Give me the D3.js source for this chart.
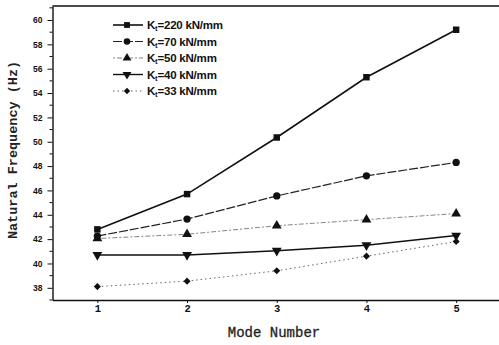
<!DOCTYPE html>
<html>
<head>
<meta charset="utf-8">
<script src="https://cdn.jsdelivr.net/npm/d3@7"></script>
<style>
  body { margin: 0; background: #fff; }
  svg { display: block; }
</style>
</head>
<body>
<div id="chart"></div>
<script>
// canvas size
let width = 499;
let height = 345;

// data
let modes = [1, 2, 3, 4, 5];
let stiffness = ["220", "70", "50", "40", "33"];
let k220 = [42.8, 45.7, 50.35, 55.3, 59.2];
let k70 = [42.25, 43.65, 45.55, 47.2, 48.3];
let k50 = [42.05, 42.4, 43.1, 43.6, 44.1];
let k40 = [40.7, 40.7, 41.05, 41.5, 42.3];
let k33 = [38.1, 38.55, 39.4, 40.6, 41.8];
let yTicks = [38, 40, 42, 44, 46, 48, 50, 52, 54, 56, 58, 60];

let seriesValues = [k220, k70, k50, k40, k33];
let markers = ["square", "circle", "up", "down", "diamond"];
let dashes = [null, "9,2", "2,2,5,2", null, "1.5,3"];
let strokes = [1.6, 1.2, 0.9, 1.4, 0.9];
let lineColors = ["#111", "#222", "#777", "#111", "#555"];

let svg = d3.select("#chart")
    .append("svg")
    .attr("width", width)
    .attr("height", height);

let xScale = d3.scaleLinear().domain([0.5, 5.5]).range([52.5, 501]);
let yScale = d3.scaleLinear().domain([37, 61.15]).range([300, 6]);

// frame
svg.append("line")
    .attr("x1", 52.5).attr("x2", 501)
    .attr("y1", 6).attr("y2", 6)
    .attr("stroke", "#111").attr("stroke-width", 1.4);

// y axis with major and minor ticks
let yAxis = d3.axisLeft(yScale).tickValues(yTicks).tickSize(5).tickPadding(5).tickSizeOuter(0);
let yg = svg.append("g")
    .attr("transform", "translate(52.5,0)")
    .call(yAxis);
yg.select(".domain").attr("stroke", "#111").attr("stroke-width", 1.4);
yg.selectAll("text")
    .attr("font-family", "Liberation Sans, Arial, sans-serif")
    .attr("font-weight", "bold")
    .attr("font-size", 8.5)
    .attr("fill", "#111");
yg.selectAll(".tick line").attr("stroke", "#111");

let minorY = d3.range(37, 62, 2);
svg.append("g").selectAll("line")
    .data(minorY)
    .join("line")
    .attr("x1", 49.5).attr("x2", 52.5)
    .attr("y1", d => yScale(d)).attr("y2", d => yScale(d))
    .attr("stroke", "#111");

// x axis
let xAxis = d3.axisBottom(xScale).tickValues(modes).tickSize(3).tickPadding(2).tickSizeOuter(0)
    .tickFormat(d3.format("d"));
let xg = svg.append("g")
    .attr("transform", "translate(0,300)")
    .call(xAxis);
xg.select(".domain").attr("stroke", "#111").attr("stroke-width", 1.6);
xg.selectAll("text")
    .attr("font-family", "Liberation Mono, Courier New, monospace")
    .attr("font-weight", "bold")
    .attr("font-size", 10.5)
    .attr("fill", "#111");
xg.selectAll(".tick line").attr("stroke", "#111");

// axis titles
svg.append("text")
    .attr("x", 274).attr("y", 337)
    .attr("text-anchor", "middle")
    .attr("font-family", "Liberation Mono, Courier New, monospace")
    .attr("font-size", 14)
    .attr("stroke", "#222")
    .attr("stroke-width", 0.3)
    .attr("fill", "#222")
    .text("Mode Number");

svg.append("text")
    .attr("transform", "translate(17,150) rotate(-90)")
    .attr("text-anchor", "middle")
    .attr("font-family", "Liberation Mono, Courier New, monospace")
    .attr("font-weight", "bold")
    .attr("font-size", 13.5)
    .attr("fill", "#222")
    .text("Natural Frequency (Hz)");

function symbolPath(m, size) {
    if (m === "square") return d3.symbol().type(d3.symbolSquare).size(size)();
    if (m === "circle") return d3.symbol().type(d3.symbolCircle).size(size)();
    if (m === "diamond") return d3.symbol().type(d3.symbolSquare).size(size * 0.6)();
    return d3.symbol().type(d3.symbolTriangle).size(size)();
}
function symbolTurn(m) {
    if (m === "down") return " rotate(180)";
    if (m === "diamond") return " rotate(45)";
    return "";
}

let line = d3.line()
    .x((d, i) => xScale(modes[i]))
    .y(d => yScale(d));

seriesValues.forEach(function(vals, s) {
    svg.append("path")
        .datum(vals)
        .attr("d", line)
        .attr("fill", "none")
        .attr("stroke", lineColors[s])
        .attr("stroke-width", strokes[s])
        .attr("stroke-dasharray", dashes[s]);

    svg.append("g").selectAll("path")
        .data(vals)
        .join("path")
        .attr("d", symbolPath(markers[s], 42))
        .attr("transform", (d, i) => "translate(" + xScale(modes[i]) + "," + yScale(d) + ")" + symbolTurn(markers[s]))
        .attr("fill", "#111");
});

// legend
let legend = svg.append("g").attr("transform", "translate(113,25)");
stiffness.forEach(function(k, s) {
    let row = legend.append("g").attr("transform", "translate(0," + (s * 16.5) + ")");
    row.append("line")
        .attr("x1", 0).attr("x2", 30)
        .attr("stroke", lineColors[s])
        .attr("stroke-width", strokes[s])
        .attr("stroke-dasharray", dashes[s]);
    row.append("path")
        .attr("d", symbolPath(markers[s], 34))
        .attr("transform", "translate(14,0)" + symbolTurn(markers[s]))
        .attr("fill", "#111");
    let t = row.append("text")
        .attr("x", 34).attr("y", 4)
        .attr("font-family", "Liberation Sans, Arial, sans-serif")
        .attr("font-weight", "bold")
        .attr("font-size", 11.5)
        .attr("letter-spacing", -0.2)
        .attr("fill", "#111");
    t.append("tspan").text("K");
    t.append("tspan").attr("font-size", 7.5).attr("dy", 2).text("t");
    t.append("tspan").attr("dy", -2).text("=" + k + " kN/mm");
});
</script>
</body>
</html>
